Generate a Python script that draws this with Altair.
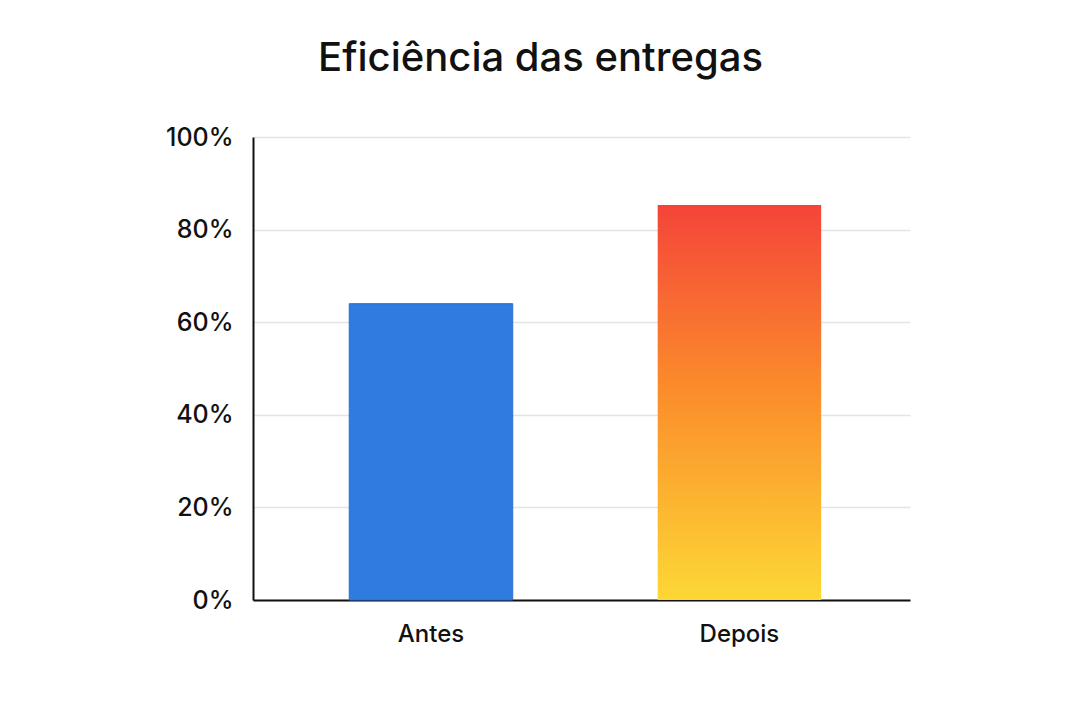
import pandas as pd
import altair as alt

# Delivery efficiency before / after
STAGES = ["Antes", "Depois"]
EFFICIENCY = [0.64, 0.853]
TICKS = [0, 0.2, 0.4, 0.6, 0.8, 1.0]

df = pd.DataFrame({"Etapa": STAGES, "Eficiencia": EFFICIENCY})

FONT = "Inter"

base = alt.Chart(df).encode(
    x=alt.X(
        "Etapa:N",
        sort=STAGES,
        title=None,
        scale=alt.Scale(paddingInner=0.47, paddingOuter=0.3, align=0.52),
        axis=alt.Axis(
            labelAngle=0,
            labelFontSize=24,
            labelFontWeight=500,
            labelFont=FONT,
            labelColor="#111111",
            labelPadding=22,
            ticks=False,
            domainColor="#111111",
            domainWidth=2,
            grid=False,
        ),
    ),
    y=alt.Y(
        "Eficiencia:Q",
        title=None,
        scale=alt.Scale(domain=[0, 1]),
        axis=alt.Axis(
            values=TICKS,
            format=".0%",
            labelFontSize=25,
            labelFontWeight=500,
            labelFont=FONT,
            labelColor="#111111",
            labelPadding=20,
            ticks=False,
            domainColor="#111111",
            domainWidth=2,
            gridColor="#e4e4e4",
            gridWidth=1.3,
        ),
    ),
)

antes = base.transform_filter(alt.datum.Etapa == "Antes").mark_bar(
    color="#2f7be0", stroke="#2a6fcf", strokeWidth=1
)

depois = base.transform_filter(alt.datum.Etapa == "Depois").mark_bar(
    color=alt.Gradient(
        gradient="linear",
        x1=0, x2=0, y1=0, y2=1,
        stops=[
            alt.GradientStop(color="#f4443a", offset=0),
            alt.GradientStop(color="#fb8a2b", offset=0.45),
            alt.GradientStop(color="#fdd835", offset=1),
        ],
    )
)

chart = (
    alt.layer(antes, depois)
    .properties(
        width=657,
        height=463,
        view=alt.ViewBackground(strokeWidth=0, stroke="transparent"),
        autosize=alt.AutoSizeParams(type="none"),
        padding={"left": 245, "top": 129, "right": 162, "bottom": 112},
        title=alt.TitleParams(
            "Eficiência das entregas",
            font=FONT,
            fontSize=40,
            fontWeight=500,
            color="#111111",
            anchor="middle",
            dx=-41,
            offset=46,
        ),
    )
    .configure_axisX(grid=False)
    .configure_view(strokeWidth=0)
    .configure(background="white")
)

chart.save("out.html", embed_options={"renderer": "svg", "actions": False})
